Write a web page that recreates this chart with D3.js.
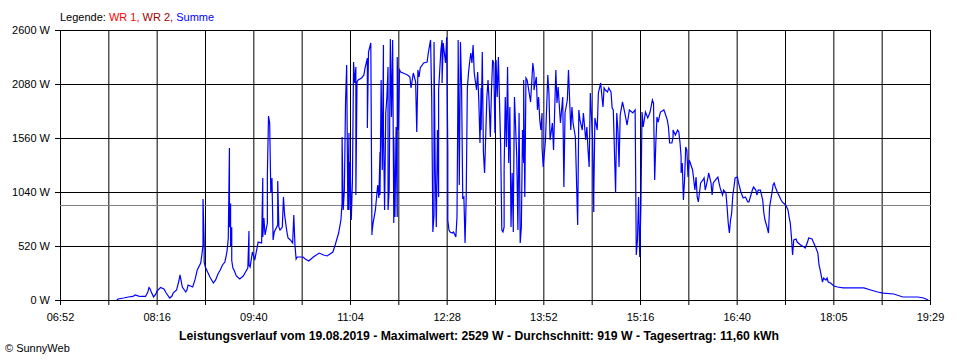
<!DOCTYPE html>
<html><head><meta charset="utf-8">
<script src="https://cdnjs.cloudflare.com/ajax/libs/d3/7.8.5/d3.min.js"></script>
<style>
body{margin:0;background:#fff}
svg{display:block}
text{font-family:"Liberation Sans",Arial,sans-serif;font-size:11px;fill:#000}
</style>
</head><body>
<svg id="chart" width="960" height="360"></svg>
<script>
// ---- data ----
const times = ["07:41","07:42","07:47","07:51","07:55","07:57","08:00","08:02","08:06","08:08","08:09","08:10","08:11","08:13","08:15","08:16","08:19","08:22","08:24","08:27","08:29","08:30","08:33","08:35","08:36","08:38","08:41","08:42","08:43","08:45","08:47","08:49","08:51","08:54","08:55","08:56","08:56","08:57","08:57","08:58","09:00","09:02","09:04","09:05","09:07","09:09","09:11","09:13","09:15","09:16","09:17","09:18","09:19","09:19","09:20","09:20","09:21","09:21","09:22","09:23","09:25","09:28","09:30","09:31","09:33","09:35","09:36","09:36","09:37","09:39","09:41","09:43","09:44","09:47","09:48","09:48","09:49","09:50","09:52","09:52","09:53","09:54","09:55","09:56","09:57","09:58","10:01","10:01","10:02","10:03","10:05","10:06","10:07","10:09","10:10","10:12","10:14","10:15","10:16","10:17","10:18","10:23","10:25","10:28","10:32","10:37","10:41","10:44","10:49","10:51","10:54","10:56","10:57","10:57","10:58","10:59","11:00","11:01","11:02","11:03","11:03","11:04","11:05","11:06","11:07","11:08","11:09","11:09","11:10","11:11","11:14","11:16","11:17","11:19","11:19","11:20","11:22","11:23","11:23","11:24","11:26","11:28","11:29","11:30","11:30","11:31","11:32","11:33","11:33","11:34","11:35","11:36","11:37","11:37","11:38","11:39","11:40","11:41","11:42","11:42","11:43","11:44","11:45","11:45","11:46","11:47","11:48","11:50","11:54","11:56","11:57","11:59","12:01","12:02","12:03","12:04","12:05","12:08","12:11","12:12","12:14","12:15","12:16","12:17","12:17","12:18","12:19","12:20","12:21","12:21","12:23","12:24","12:24","12:25","12:27","12:28","12:29","12:29","12:30","12:31","12:33","12:34","12:36","12:37","12:38","12:38","12:39","12:40","12:41","12:42","12:43","12:44","12:45","12:46","12:47","12:48","12:49","12:50","12:51","12:52","12:54","12:55","12:56","12:57","12:58","12:58","12:59","13:00","13:01","13:03","13:04","13:05","13:06","13:07","13:08","13:09","13:10","13:11","13:12","13:13","13:15","13:16","13:17","13:18","13:18","13:19","13:20","13:21","13:22","13:23","13:24","13:25","13:26","13:26","13:27","13:29","13:30","13:31","13:32","13:33","13:34","13:35","13:35","13:36","13:37","13:38","13:39","13:41","13:43","13:44","13:44","13:46","13:47","13:48","13:49","13:50","13:51","13:51","13:52","13:54","13:56","13:57","13:58","14:00","14:01","14:03","14:04","14:05","14:07","14:09","14:10","14:11","14:13","14:14","14:16","14:17","14:18","14:20","14:22","14:23","14:24","14:26","14:27","14:29","14:30","14:31","14:32","14:33","14:35","14:36","14:36","14:37","14:39","14:40","14:42","14:44","14:45","14:46","14:48","14:49","14:51","14:52","14:53","14:55","14:56","14:57","14:58","14:59","15:01","15:03","15:05","15:07","15:10","15:12","15:13","15:14","15:15","15:16","15:17","15:18","15:19","15:21","15:23","15:25","15:27","15:28","15:29","15:30","15:31","15:32","15:34","15:37","15:38","15:40","15:41","15:42","15:44","15:45","15:45","15:47","15:49","15:50","15:51","15:52","15:52","15:53","15:54","15:55","15:56","15:57","15:58","15:59","16:00","16:02","16:03","16:04","16:05","16:06","16:07","16:09","16:11","16:12","16:13","16:15","16:16","16:18","16:19","16:20","16:22","16:24","16:25","16:26","16:28","16:29","16:31","16:32","16:33","16:34","16:35","16:36","16:37","16:38","16:39","16:41","16:42","16:44","16:45","16:46","16:48","16:50","16:51","16:52","16:54","16:55","16:57","16:58","16:59","17:01","17:03","17:04","17:05","17:07","17:08","17:09","17:11","17:12","17:13","17:14","17:16","17:17","17:19","17:20","17:21","17:23","17:25","17:26","17:27","17:28","17:29","17:30","17:32","17:33","17:36","17:39","17:40","17:42","17:43","17:46","17:47","17:49","17:51","17:52","17:53","17:55","17:56","17:58","17:59","18:00","18:02","18:05","18:08","18:13","18:22","18:31","18:37","18:43","18:48","18:57","19:05","19:09","19:18","19:23","19:27"];
const watts = [0,10,19,29,34,48,38,34,34,77,120,106,77,29,58,87,120,106,67,19,38,67,96,183,241,125,77,96,144,135,125,193,289,356,433,530,973,568,366,318,270,221,183,164,193,250,289,337,366,414,481,597,1464,700,930,520,700,380,308,289,231,202,221,231,270,308,664,337,318,462,385,500,558,549,1175,607,790,626,741,1204,1772,1704,1030,1175,578,655,722,1146,703,674,703,992,819,655,597,578,549,819,530,395,414,414,395,375,414,452,433,424,462,530,645,770,934,1570,867,1059,1897,2263,867,1608,867,1329,770,1136,2292,2090,2244,1011,2100,2119,2138,2167,2234,2330,1656,2388,2475,626,645,741,867,1107,982,1425,1011,2119,1252,2455,1666,867,1801,1955,2244,867,1059,2513,1762,2504,741,1570,799,1666,799,2340,1637,2215,2196,2186,2167,2148,2042,2186,2100,1618,2215,2148,2234,2282,2292,2378,2504,1945,655,819,2485,1281,703,1637,992,2022,2407,2504,2090,2475,2282,2529,1444,770,674,655,645,655,607,799,2311,2504,1107,2485,2042,982,992,549,982,2042,2186,2292,2378,2282,2455,2186,2022,2196,1907,1512,2042,1637,2388,1416,1223,1955,2119,1897,1570,2022,2311,2282,1608,2311,1955,2340,1473,674,655,703,1252,1955,1473,2244,1319,1859,703,1223,655,799,1955,1377,674,1801,549,703,1637,1319,2119,992,2138,2119,2051,1907,2282,2186,2022,2148,1830,1955,1733,1637,1801,1473,1281,1541,2167,1993,1541,1704,1444,2215,1897,2051,1704,1955,1088,1801,1926,2215,1637,1859,1704,1570,722,1830,1733,1637,1801,1541,1666,1444,1281,1993,1541,847,992,1753,1637,1993,2090,1859,2042,2022,2003,2042,2003,1849,1830,1030,1801,1637,1281,1782,1907,1801,1685,1830,1801,1830,433,578,992,414,896,1810,1666,1810,1753,1810,1926,1897,1156,1512,1762,1714,1810,1830,1801,1733,1666,1512,1512,1570,1637,1589,1637,1618,1521,1377,1223,1319,963,1156,1473,1444,1184,1348,1319,1252,1156,1059,1184,992,944,1127,1156,1175,1059,1156,1223,1127,1011,1127,1156,1184,1127,1079,1011,1059,1030,896,741,645,770,838,1011,1088,1175,1184,1127,1040,1011,982,992,944,944,982,1059,1088,1059,1011,1059,1059,963,838,770,693,645,896,1030,1107,1127,1088,1030,1011,963,944,934,915,867,799,741,607,433,578,587,558,530,510,500,558,597,587,558,510,452,337,289,173,212,193,212,173,164,135,125,116,116,116,96,77,67,58,29,29,29,19,0];
const xTickLabels = ["06:52","08:16","09:40","11:04","12:28","13:52","15:16","16:40","18:05","19:29"];
const yTickValues = [0,520,1040,1560,2080,2600];
const averageWatt = 919;
const titleText = "Leistungsverlauf vom 19.08.2019 - Maximalwert: 2529 W - Durchschnitt: 919 W - Tagesertrag: 11,60 kWh";
const legendParts = ["Legende: ","WR 1, ","WR 2, ","Summe"];
const legendColors = ["#000000","#ff0000","#a00000","#0000ff"];
const copyright = "\u00A9 SunnyWeb";

// ---- drawing ----
const toMin = s => { const [h,m] = s.split(":").map(Number); return h*60+m; };
const svg = d3.select("#chart");
const L = 60, R = 930, T = 30, B = 300;
const t0 = toMin(xTickLabels[0]), t1 = toMin(xTickLabels[xTickLabels.length-1]);
const x = d3.scaleLinear().domain([t0, t1]).range([L, R]);
const y = d3.scaleLinear().domain([0, 2600]).range([B, T]);

const gridVals = d3.range(19).map(i => t0 + i*(t1-t0)/18);

// vertical grid
svg.append("g").attr("transform", `translate(0,${B})`)
  .call(d3.axisBottom(x).tickValues(gridVals).tickSize(-(B-T)).tickFormat(""))
  .call(g => g.select(".domain").remove())
  .call(g => g.selectAll("line").attr("stroke", "#000"));
// horizontal grid
svg.append("g").attr("transform", `translate(${L},0)`)
  .call(d3.axisLeft(y).tickValues(yTickValues).tickSize(-(R-L)).tickFormat(""))
  .call(g => g.select(".domain").remove())
  .call(g => g.selectAll("line").attr("stroke", "#000"));

// bottom axis ticks + labels
svg.append("g").attr("transform", `translate(0,${B})`)
  .call(d3.axisBottom(x).tickValues(gridVals).tickSize(5).tickSizeOuter(0).tickPadding(8)
    .tickFormat((d,i) => i % 2 === 0 ? xTickLabels[i/2] : ""))
  .call(g => g.select(".domain").attr("stroke", "#000"))
  .call(g => g.selectAll("line").attr("stroke", "#000"))
  .call(g => g.selectAll("text").attr("font-family", null).attr("font-size", null));

// left axis ticks + labels
svg.append("g").attr("transform", `translate(${L},0)`)
  .call(d3.axisLeft(y).tickValues(yTickValues).tickSize(5).tickSizeOuter(0).tickPadding(5)
    .tickFormat(d => d + " W"))
  .call(g => g.select(".domain").attr("stroke", "#000"))
  .call(g => g.selectAll("line").attr("stroke", "#000"))
  .call(g => g.selectAll("text").attr("font-family", null).attr("font-size", null));

// average line
const ya = Math.round(y(averageWatt)) + 0.5;
svg.append("line").attr("x1", L).attr("x2", R + 1).attr("y1", ya).attr("y2", ya)
  .attr("stroke", "#808080").attr("stroke-width", 1);

// data line
const data = times.map((t,i) => ({t: toMin(t), v: watts[i]}));
svg.append("path").datum(data)
  .attr("fill", "none").attr("stroke", "#0000ff").attr("stroke-width", 1.2)
  .attr("d", d3.line().x(d => x(d.t) + 0.5).y(d => y(d.v)));

// legend
const lg = svg.append("text").attr("x", 60).attr("y", 21).style("white-space", "pre");
legendParts.forEach((p,i) => lg.append("tspan").text(p).style("fill", legendColors[i]));

// title
svg.append("text").attr("x", 479).attr("y", 340).attr("text-anchor", "middle")
  .style("font-weight", "bold").style("font-size", "12px")
  .attr("textLength", 600).attr("lengthAdjust", "spacingAndGlyphs").text(titleText);

// copyright
svg.append("text").attr("x", 5).attr("y", 352).text(copyright);
</script>
</body></html>
